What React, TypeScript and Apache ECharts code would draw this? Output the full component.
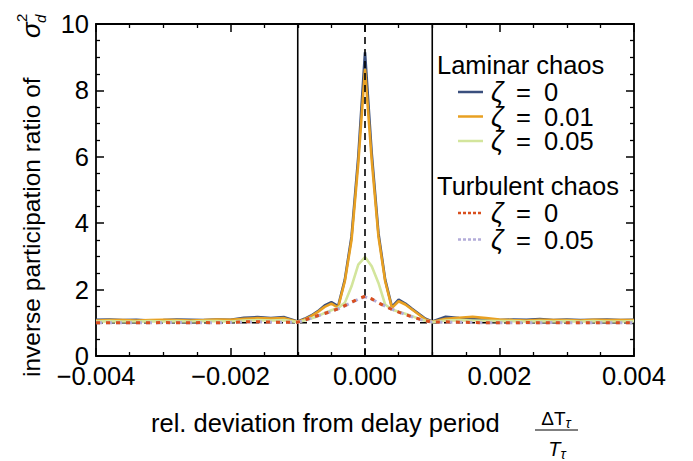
import React, { useEffect, useRef } from "react";
import * as echarts from "echarts";

const xs = [-0.004,-0.0038,-0.0036,-0.0034,-0.0032,-0.003,-0.0028,-0.0026,-0.0024,-0.0022,-0.002,-0.0018,-0.0016,-0.0014,-0.0012,
  -0.001,-0.0009,-0.0008,-0.0007,-0.0006,-0.0005,-0.0004,-0.0003,-0.0002,-0.0001,0,0.0001,0.0002,0.0003,0.0004,0.0005,0.0006,0.0007,0.0008,0.0009,0.001,
  0.0012,0.0014,0.0016,0.0018,0.002,0.0022,0.0024,0.0026,0.0028,0.003,0.0032,0.0034,0.0036,0.0038,0.004];

const laminar0 = [1.09,1.10,1.08,1.09,1.07,1.08,1.10,1.09,1.08,1.10,1.09,1.15,1.17,1.14,1.17,
  1.04,1.12,1.22,1.35,1.52,1.62,1.50,2.30,3.60,6.00,9.15,6.10,3.70,2.30,1.48,1.70,1.58,1.42,1.27,1.12,1.04,
  1.18,1.14,1.12,1.10,1.08,1.10,1.09,1.11,1.08,1.10,1.08,1.09,1.10,1.08,1.09];
const laminar001 = [1.07,1.08,1.08,1.07,1.08,1.09,1.08,1.07,1.08,1.10,1.09,1.12,1.14,1.13,1.14,
  1.03,1.10,1.20,1.33,1.48,1.58,1.46,2.25,3.50,5.80,8.65,5.90,3.60,2.25,1.45,1.65,1.55,1.40,1.25,1.10,1.03,
  1.12,1.15,1.18,1.14,1.10,1.08,1.07,1.09,1.08,1.08,1.07,1.09,1.08,1.08,1.08];
const laminar005 = [1.04,1.05,1.04,1.04,1.05,1.04,1.05,1.04,1.05,1.05,1.04,1.07,1.08,1.07,1.08,
  1.02,1.07,1.13,1.20,1.30,1.38,1.45,1.60,2.10,2.75,2.98,2.70,2.20,1.55,1.40,1.33,1.27,1.20,1.12,1.06,1.02,
  1.07,1.08,1.07,1.06,1.05,1.05,1.04,1.05,1.04,1.05,1.04,1.05,1.04,1.04,1.05];
const turbulent0 = [1.0,1.0,1.0,1.0,1.0,1.01,1.0,1.0,1.01,1.0,1.01,1.03,1.03,1.02,1.02,
  1.02,1.08,1.15,1.22,1.28,1.35,1.42,1.52,1.62,1.72,1.80,1.72,1.60,1.50,1.40,1.32,1.25,1.18,1.12,1.06,1.02,
  1.03,1.02,1.01,1.0,1.0,1.0,1.01,1.0,1.0,1.0,1.0,1.0,1.0,1.0,1.0];
const turbulent005 = [1.0,1.0,1.0,1.0,1.0,1.0,1.01,1.0,1.0,1.0,1.01,1.02,1.03,1.02,1.02,
  1.02,1.07,1.14,1.21,1.28,1.34,1.42,1.51,1.61,1.71,1.78,1.71,1.61,1.50,1.41,1.33,1.25,1.18,1.11,1.06,1.02,
  1.02,1.02,1.01,1.0,1.0,1.0,1.0,1.0,1.01,1.0,1.0,1.0,1.0,1.0,1.0];

const xTicks = [-0.004, -0.002, 0, 0.002, 0.004];
const yTicks = [0, 2, 4, 6, 8, 10];
const boundaryX = [-0.001, 0.001];
const centerX = 0;
const baselineY = 1;
const legendLaminar = ["0", "0.01", "0.05"];
const legendTurbulent = ["0", "0.05"];

const FONT = "'Liberation Sans', Arial, Helvetica, sans-serif";
const C_BLUE = "#3A4F7D";
const C_ORANGE = "#E8A022";
const C_GREEN = "#D3E59C";
const C_RED = "#D94F1E";
const C_LAV = "#B3ACD9";

function pairs(vals: number[]) {
  return xs.map((x, i) => [x, vals[i]]);
}

function fmtX(v: number) {
  const s = Math.abs(v).toFixed(3);
  return v < -1e-9 ? "\u2212" + s : s;
}

export default function App() {
  const ref = useRef<HTMLDivElement>(null);
  useEffect(() => {
    if (!ref.current) return;
    const chart = echarts.init(ref.current, undefined, { renderer: "svg" });
    const axisCommon = {
      axisLine: { show: true, onZero: false, lineStyle: { color: "#000", width: 1.8 } },
      axisTick: { show: true, inside: true, length: 8, lineStyle: { color: "#000", width: 1.5 } },
      minorTick: { show: true, splitNumber: 4, length: 4, lineStyle: { color: "#000", width: 1.3 } },
      splitLine: { show: false },
      minorSplitLine: { show: false },
    };
    const labelStyle = { color: "#000", fontSize: 25.5, fontFamily: FONT };
    const txtStyle = (extra: any) => ({
      fontSize: 25.5,
      fontFamily: FONT,
      fill: "#000",
      align: "left",
      verticalAlign: "middle",
      textAlign: "left",
      textVerticalAlign: "middle",
      lineHeight: 22,
      ...extra,
    });
    const legendLine = (y: number, color: string, dash: any) => ({
      type: "line",
      shape: { x1: 458, y1: y, x2: 483, y2: y },
      style: { stroke: color, lineWidth: 2.5, lineDash: dash },
    });
    const legendRow = (v: string, y: number) => [
      { type: "text", x: 491, y, style: txtStyle({ text: "ζ", fontStyle: "italic", fontSize: 27 }) },
      { type: "text", x: 516, y, style: txtStyle({ text: "=" }) },
      { type: "text", x: 544, y, style: txtStyle({ text: v }) },
    ];
    const lamY = [92, 116.5, 141];
    const turY = [213, 239.5];
    const lamCol = [C_BLUE, C_ORANGE, C_GREEN];
    const turCol = [C_RED, C_LAV];
    const graphics: any[] = [
      { type: "text", x: 437, y: 64.5, style: txtStyle({ text: "Laminar chaos" }) },
      { type: "text", x: 437, y: 185.5, style: txtStyle({ text: "Turbulent chaos" }) },
    ];
    legendLaminar.forEach((v, i) => {
      graphics.push(legendLine(lamY[i], lamCol[i], null));
      graphics.push(...legendRow(v, lamY[i]));
    });
    legendTurbulent.forEach((v, i) => {
      graphics.push(legendLine(turY[i], turCol[i], [3, 2]));
      graphics.push(...legendRow(v, turY[i]));
    });
    // y-axis name (rotated)
    graphics.push({
      type: "group",
      x: 31,
      y: 377,
      rotation: Math.PI / 2,
      children: [
        { type: "text", x: 0, y: 0, style: txtStyle({ text: "inverse participation ratio of", fontSize: 24.5 }) },
        { type: "text", x: 339, y: 0, style: txtStyle({ text: "σ", fontSize: 26, fontStyle: "italic" }) },
        { type: "text", x: 355, y: -10, style: txtStyle({ text: "2", fontSize: 15, lineHeight: 15 }) },
        { type: "text", x: 354, y: 9, style: txtStyle({ text: "d", fontSize: 15, fontStyle: "italic", lineHeight: 15 }) },
      ],
    });
    // x-axis name
    graphics.push({ type: "text", x: 151, y: 423, style: txtStyle({ text: "rel. deviation from delay period" }) });
    graphics.push({ type: "text", x: 556, y: 418, style: txtStyle({ text: "ΔT{s|τ}", rich: { s: { fontSize: 14, fontStyle: "italic", fontFamily: FONT, fill: "#000", padding: [9, 0, 0, 0] } }, fontSize: 19, lineHeight: 19, align: "center", textAlign: "center" }) });
    graphics.push({ type: "line", shape: { x1: 535, y1: 430, x2: 578, y2: 430 }, style: { stroke: "#000", lineWidth: 1.2 } });
    graphics.push({ type: "text", x: 557, y: 449, style: txtStyle({ text: "T{s|τ}", rich: { s: { fontSize: 14, fontStyle: "italic", fontFamily: FONT, fill: "#000", padding: [9, 0, 0, 0] } }, fontSize: 20, lineHeight: 20, fontStyle: "italic", align: "center", textAlign: "center" }) });

    const refLine = (data: number[][], dash: any, z: number) => ({
      type: "line", data, showSymbol: false, silent: true, z,
      lineStyle: { color: "#000", width: 1.6, type: dash },
    });

    const option: any = {
      animation: false,
      grid: { left: 96, right: 59, top: 24, bottom: 105, containLabel: false },
      xAxis: [
        {
          type: "value", min: xTicks[0], max: xTicks[xTicks.length - 1], interval: 0.002, position: "bottom",
          ...axisCommon,
          axisLabel: { ...labelStyle, margin: 7, showMinLabel: true, showMaxLabel: true, formatter: (v: number) => fmtX(v) },
        },
        {
          type: "value", min: xTicks[0], max: xTicks[xTicks.length - 1], interval: 0.002, position: "top",
          ...axisCommon, axisLabel: { show: false },
        },
      ],
      yAxis: [
        {
          type: "value", min: yTicks[0], max: yTicks[yTicks.length - 1], interval: 2, position: "left",
          ...axisCommon,
          axisLabel: { ...labelStyle, margin: 7, showMinLabel: true, showMaxLabel: true },
        },
        {
          type: "value", min: yTicks[0], max: yTicks[yTicks.length - 1], interval: 2, position: "right",
          ...axisCommon, axisLabel: { show: false },
        },
      ],
      series: [
        refLine([[xTicks[0], baselineY], [xTicks[xTicks.length - 1], baselineY]], [7, 5], 1),
        refLine([[boundaryX[0], yTicks[0]], [boundaryX[0], yTicks[yTicks.length - 1]]], "solid", 1),
        refLine([[boundaryX[1], yTicks[0]], [boundaryX[1], yTicks[yTicks.length - 1]]], "solid", 1),
        { type: "line", name: "lam0", data: pairs(laminar0), showSymbol: false, z: 2, lineStyle: { color: C_BLUE, width: 2.6 } },
        { type: "line", name: "lam001", data: pairs(laminar001), showSymbol: false, z: 3, lineStyle: { color: C_ORANGE, width: 2.6 } },
        { type: "line", name: "lam005", data: pairs(laminar005), showSymbol: false, z: 4, lineStyle: { color: C_GREEN, width: 2.6 } },
        refLine([[centerX, yTicks[0]], [centerX, yTicks[yTicks.length - 1]]], [7, 5], 5),
        { type: "line", name: "tur005", data: pairs(turbulent005), showSymbol: false, z: 6, lineStyle: { color: C_LAV, width: 3, type: [6, 4] } },
        { type: "line", name: "tur0", data: pairs(turbulent0), showSymbol: false, z: 7, lineStyle: { color: C_RED, width: 3, type: [4, 6] } },
      ],
      graphic: graphics,
    };
    chart.setOption(option);
    return () => chart.dispose();
  }, []);
  return <div ref={ref} style={{ position: "fixed", left: 0, top: 0, width: 693, height: 461, background: "#fff" }} />;
}
